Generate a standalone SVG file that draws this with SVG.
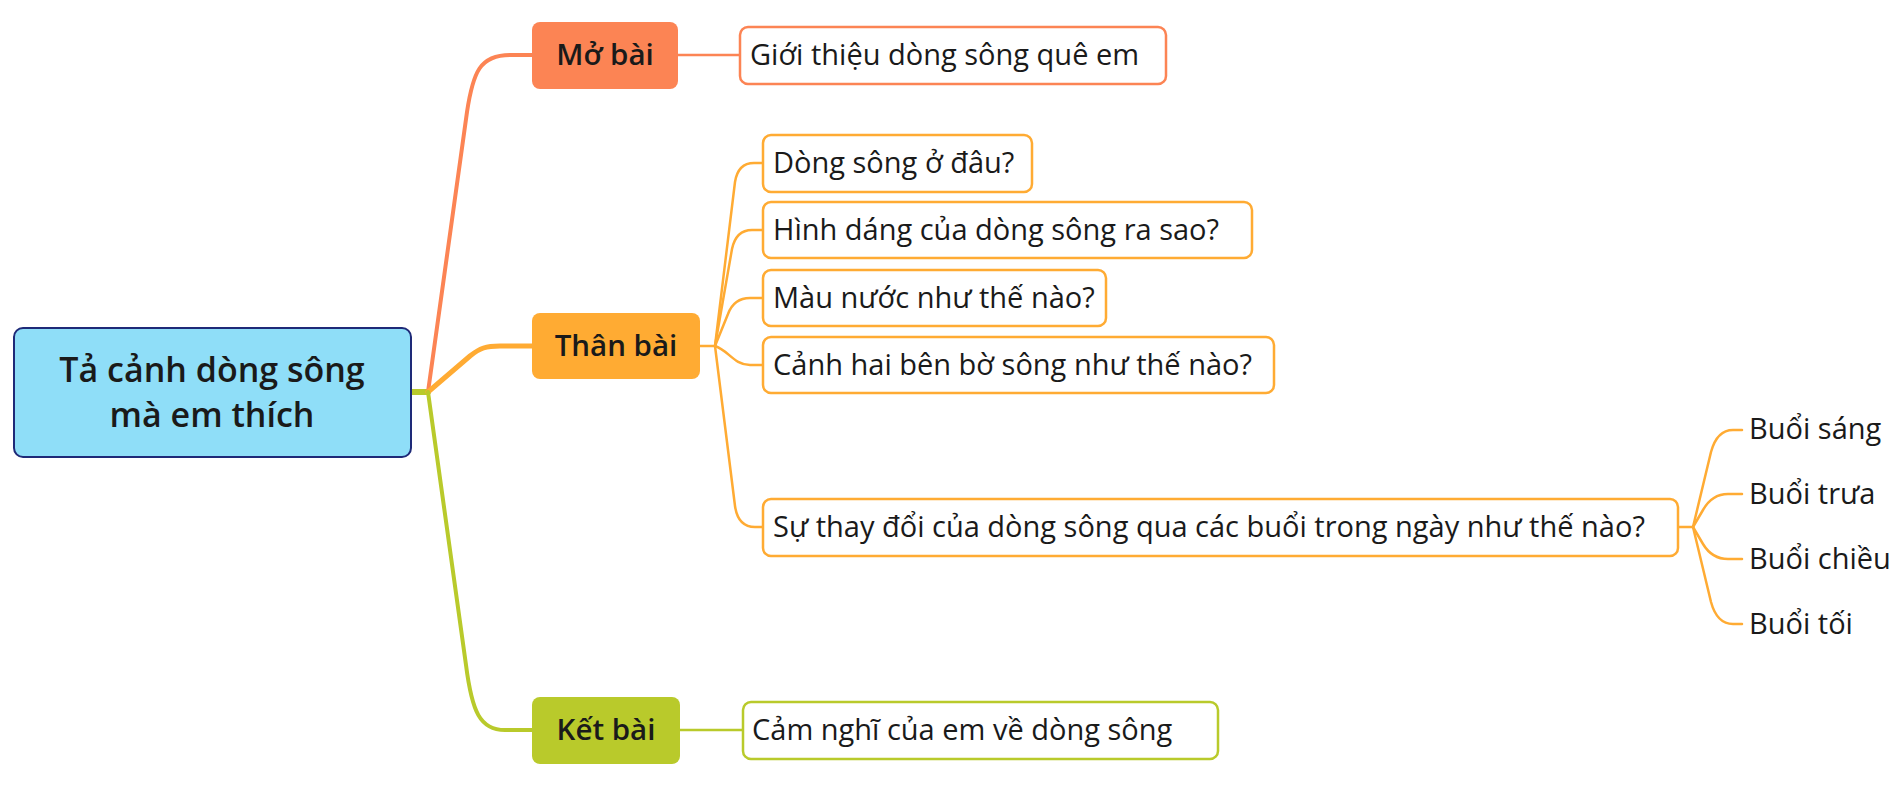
<svg xmlns="http://www.w3.org/2000/svg" width="1900" height="812" viewBox="0 0 1900 812">
<style>
.bg{fill:#ffffff}
.root{fill:#8FDEF8;stroke:#1E2A78;stroke-width:2}
.rt{font-family:"Open Sans","Liberation Sans",sans-serif;font-size:34px;font-weight:600;fill:#1a1a1a;text-anchor:middle}
.bt{font-family:"Open Sans","Liberation Sans",sans-serif;font-size:29.5px;font-weight:600;fill:#1a1a1a;text-anchor:middle}
.lt{font-family:"Open Sans","Liberation Sans",sans-serif;font-size:29px;font-weight:400;fill:#1a1a1a}
.leaf{fill:#ffffff;stroke-width:2.5}
.c1{stroke:#FC8454}
.c2{stroke:#FFAB33}
.c3{stroke:#B9CA2B}
.f1{fill:#FC8454}
.f2{fill:#FFAB33}
.f3{fill:#B9CA2B}
.ln{fill:none;stroke-linecap:round;stroke-linejoin:round}
</style>
<rect class="bg" x="0" y="0" width="1900" height="812"/>
<g id="connectors">
<path class="ln c3" stroke-width="6" d="M411,392 L428,392"/>
<path class="ln c1" stroke-width="4" d="M428,392 L467,112 C473,72 480,55 510,55 L532,55"/>
<path class="ln c2" stroke-width="5" d="M428,392 L470,356 C480,348 486,346 500,346 L532,346"/>
<path class="ln c3" stroke-width="4" d="M428,392 L466,665 C472,712 480,730 505,730 L532,730"/>
<path class="ln c1" stroke-width="2.5" d="M678,55 L740,55"/>
<path class="ln c3" stroke-width="2.5" d="M680,730 L743,730"/>
<path class="ln c2" stroke-width="2.5" d="M700,346 L715,346"/>
<path class="ln c2" stroke-width="2.5" d="M715,346 L735,182 Q738,163 754,163 L763,163"/>
<path class="ln c2" stroke-width="2.5" d="M715,346 L732,249 Q736,230 752,230 L763,230"/>
<path class="ln c2" stroke-width="2.5" d="M715,346 L728,314 Q734,298 750,298 L763,298"/>
<path class="ln c2" stroke-width="2.5" d="M715,346 C728,350 734,365 750,365 L763,365"/>
<path class="ln c2" stroke-width="2.5" d="M715,346 L735,506 Q738,527 755,527 L763,527"/>
<path class="ln c2" stroke-width="2.5" d="M1678,527 L1693,527"/>
<path class="ln c2" stroke-width="2.5" d="M1693,527 L1711,452 Q1717,430 1733,430 L1742,430"/>
<path class="ln c2" stroke-width="2.5" d="M1693,527 L1703,510 Q1712,494 1728,494 L1742,494"/>
<path class="ln c2" stroke-width="2.5" d="M1693,527 L1703,544 Q1712,559 1728,559 L1742,559"/>
<path class="ln c2" stroke-width="2.5" d="M1693,527 L1711,602 Q1717,624 1733,624 L1742,624"/>
</g>
<g id="root">
<rect class="root" x="14" y="328" width="397" height="129" rx="9"/>
<text class="rt" x="212" y="382">Tả cảnh dòng sông</text>
<text class="rt" x="212" y="427">mà em thích</text>
</g>
<g id="mo-bai">
<rect class="f1" x="532" y="22" width="146" height="67" rx="8"/>
<text class="bt" x="605" y="65">Mở bài</text>
</g>
<g id="gioi-thieu">
<rect class="leaf c1" x="740" y="27" width="426" height="57" rx="8"/>
<text class="lt" x="750" y="65">Giới thiệu dòng sông quê em</text>
</g>
<g id="than-bai">
<rect class="f2" x="532" y="313" width="168" height="66" rx="8"/>
<text class="bt" x="616" y="356">Thân bài</text>
</g>
<g id="tb1">
<rect class="leaf c2" x="763" y="135" width="269" height="57" rx="8"/>
<text class="lt" x="773" y="173">Dòng sông ở đâu?</text>
</g>
<g id="tb2">
<rect class="leaf c2" x="763" y="202" width="489" height="56" rx="8"/>
<text class="lt" x="773" y="240">Hình dáng của dòng sông ra sao?</text>
</g>
<g id="tb3">
<rect class="leaf c2" x="763" y="270" width="343" height="56" rx="8"/>
<text class="lt" x="773" y="308">Màu nước như thế nào?</text>
</g>
<g id="tb4">
<rect class="leaf c2" x="763" y="337" width="511" height="56" rx="8"/>
<text class="lt" x="773" y="375">Cảnh hai bên bờ sông như thế nào?</text>
</g>
<g id="tb5">
<rect class="leaf c2" x="763" y="499" width="915" height="57" rx="8"/>
<text class="lt" x="773" y="537" font-size="28.4">Sự thay đổi của dòng sông qua các buổi trong ngày như thế nào?</text>
</g>
<g id="buoi-sang"><text class="lt" x="1749" y="439" font-size="28">Buổi sáng</text></g>
<g id="buoi-trua"><text class="lt" x="1749" y="504" font-size="28">Buổi trưa</text></g>
<g id="buoi-chieu"><text class="lt" x="1749" y="569" font-size="28">Buổi chiều</text></g>
<g id="buoi-toi"><text class="lt" x="1749" y="634" font-size="28">Buổi tối</text></g>
<g id="ket-bai">
<rect class="f3" x="532" y="697" width="148" height="67" rx="8"/>
<text class="bt" x="606" y="740">Kết bài</text>
</g>
<g id="cam-nghi">
<rect class="leaf c3" x="743" y="702" width="475" height="57" rx="8"/>
<text class="lt" x="752" y="740">Cảm nghĩ của em về dòng sông</text>
</g>
</svg>
